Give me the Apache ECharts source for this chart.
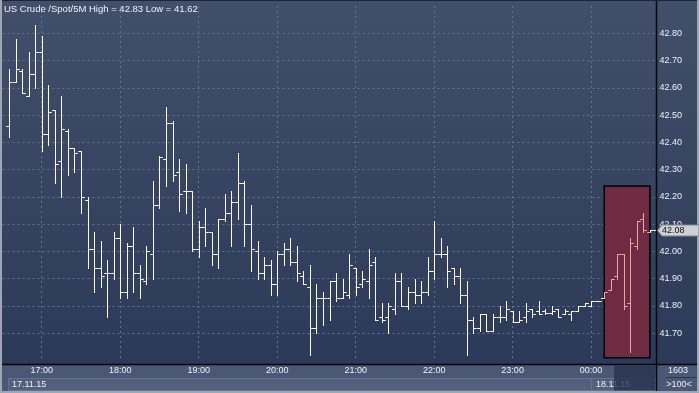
<!DOCTYPE html>
<html><head><meta charset="utf-8">
<script src="https://cdn.jsdelivr.net/npm/echarts@6/dist/echarts.min.js"></script>
<style>html,body{margin:0;padding:0;background:#9ea6b3;}#c{width:699px;height:393px;}</style>
</head><body><div id="c"></div>
<script>
// ---- data ----
const times = ['16:35','16:40','16:45','16:50','16:55',
'17:00','17:05','17:10','17:15','17:20','17:25','17:30','17:35','17:40','17:45','17:50','17:55',
'18:00','18:05','18:10','18:15','18:20','18:25','18:30','18:35','18:40','18:45','18:50','18:55',
'19:00','19:05','19:10','19:15','19:20','19:25','19:30','19:35','19:40','19:45','19:50','19:55',
'20:00','20:05','20:10','20:15','20:20','20:25','20:30','20:35','20:40','20:45','20:50','20:55',
'21:00','21:05','21:10','21:15','21:20','21:25','21:30','21:35','21:40','21:45','21:50','21:55',
'22:00','22:05','22:10','22:15','22:20','22:25','22:30','22:35','22:40','22:45','22:50','22:55',
'23:00','23:05','23:10','23:15','23:20','23:25','23:30','23:35','23:40','23:45','23:50','23:55',
'00:00','00:05','00:10','00:15','00:20','00:25','00:30','00:35','00:40','00:45'];
const opens = [42.46,42.62,42.66,42.57,42.65,
42.73,42.43,42.52,42.33,42.44,42.38,42.37,42.19,42.01,41.94,41.92,41.92,
42.05,41.85,42.02,41.92,41.89,41.99,42.17,42.34,42.47,42.29,42.22,42.22,
42.01,42.09,42.07,41.99,42.12,42.14,42.18,42.25,42.10,42.00,41.92,41.95,
41.88,41.99,42.01,41.96,41.91,41.87,41.72,41.83,41.83,41.89,41.83,41.84,
41.94,41.88,41.89,41.96,41.76,41.76,41.79,41.89,41.80,41.85,41.84,41.85,
41.93,41.99,41.99,41.94,41.91,41.84,41.75,41.72,41.77,41.71,41.76,41.76,
41.78,41.74,41.76,41.79,41.78,41.78,41.775,41.79,41.77,41.77,41.78,41.80,
41.80,41.82,41.83,41.86,41.91,41.99,41.81,42.02,42.12,42.07];
const highs = [42.67,42.78,42.67,42.73,42.83,
42.79,42.61,42.52,42.57,42.45,42.38,42.37,42.20,42.07,42.04,41.97,42.07,
42.10,42.03,42.09,41.95,42.02,42.26,42.35,42.53,42.48,42.34,42.32,42.22,
42.11,42.16,42.07,42.12,42.21,42.22,42.36,42.26,42.17,42.04,41.98,41.97,
42.00,42.03,42.05,42.02,41.93,41.95,41.88,41.85,41.89,41.92,41.90,41.99,
41.94,41.93,42.01,41.98,41.81,41.81,41.92,41.92,41.87,41.90,41.89,41.98,
42.11,42.05,42.02,41.94,41.94,41.89,41.76,41.77,41.77,41.77,41.80,41.82,
41.78,41.78,41.81,41.79,41.82,41.79,41.80,41.79,41.79,41.78,41.80,41.81,
41.82,41.82,41.85,41.90,41.99,41.99,42.05,42.11,42.14,42.08];
const lows = [42.42,42.62,42.58,42.57,42.60,
42.37,42.39,42.25,42.20,42.28,42.29,42.14,41.94,41.85,41.87,41.76,41.90,
41.83,41.83,41.85,41.83,41.88,41.90,42.16,42.24,42.26,42.15,42.14,42.00,
41.98,42.02,41.95,41.94,42.11,42.02,42.12,42.02,41.93,41.90,41.90,41.84,
41.84,41.95,41.95,41.89,41.88,41.62,41.70,41.73,41.75,41.82,41.83,41.83,
41.84,41.87,41.83,41.75,41.74,41.70,41.77,41.80,41.79,41.81,41.81,41.84,
41.90,41.98,41.87,41.88,41.81,41.62,41.70,41.71,41.71,41.71,41.74,41.75,
41.74,41.74,41.74,41.76,41.77,41.77,41.77,41.76,41.77,41.75,41.78,41.80,
41.80,41.82,41.83,41.86,41.90,41.79,41.63,42.01,42.07,42.07];
const closes = [42.62,42.67,42.58,42.65,42.73,
42.43,42.51,42.32,42.45,42.38,42.36,42.20,42.01,41.94,41.91,41.92,42.05,
41.85,42.02,41.92,41.90,42.00,42.17,42.345,42.47,42.28,42.21,42.22,42.01,
42.09,42.07,41.99,42.12,42.14,42.18,42.25,42.10,42.01,41.92,41.95,41.88,
41.99,42.01,41.96,41.92,41.88,41.72,41.83,41.83,41.89,41.83,41.85,41.95,
41.87,41.90,41.95,41.75,41.75,41.80,41.89,41.80,41.85,41.84,41.85,41.93,
41.99,41.99,41.93,41.91,41.84,41.75,41.72,41.77,41.71,41.76,41.76,41.79,
41.74,41.75,41.78,41.77,41.77,41.775,41.78,41.76,41.78,41.78,41.80,41.81,
41.82,41.82,41.85,41.90,41.99,41.80,42.03,42.11,42.08,42.08];
const categories = ['16:30'].concat(times, ['00:50']);
const hourLabels = ['17:00','18:00','19:00','20:00','21:00','22:00','23:00','00:00'];
const yTickLabels = ['41.70','41.80','41.90','42.00','42.10','42.20','42.30','42.40','42.50','42.60','42.70','42.80'];
const boxStart = '00:10', boxEnd = '00:45', boxTop = 42.24, boxBottom = 41.61;
const titleText = 'US Crude /Spot/5M High = 42.83 Low = 41.62';
const dates = ['17.11.15', '18.11.15'];

const FONT = '"Liberation Sans", Arial, sans-serif';
const WHITE = '#fdf7f2', PINK = '#f2a2a6';
const catIdx = t => categories.indexOf(t);
const ohlc = times.map((t, i) => [catIdx(t), opens[i], highs[i], lows[i], closes[i]]);

const chart = echarts.init(document.getElementById('c'), null, {renderer: 'canvas'});
const grad = (a, b) => new echarts.graphic.LinearGradient(0, 0, 0, 1, [{offset: 0, color: a}, {offset: 1, color: b}]);
const base = [
  {type: 'rect', z: -100, shape: {x: 2, y: 0, width: 655, height: 364}, style: {fill: grad('#414f6a', '#2c3a59')}},
  {type: 'rect', z: -100, shape: {x: 657, y: 0, width: 40, height: 364}, style: {fill: grad('#414f6a', '#2c3a59')}},
  {type: 'rect', z: -100, shape: {x: 2, y: 365, width: 695, height: 26}, style: {fill: '#4a5875'}},
  {type: 'rect', z: -90, shape: {x: 8.5, y: 378.5, width: 583, height: 12}, style: {fill: '#52607d', stroke: '#66738e', lineWidth: 1}},
  {type: 'rect', z: -90, shape: {x: 591.5, y: 378.5, width: 64, height: 12}, style: {fill: '#52607d', stroke: '#66738e', lineWidth: 1}},
  {type: 'line', z: 50, shape: {x1: 656.5, y1: 0, x2: 656.5, y2: 391}, style: {stroke: '#05070c', lineWidth: 1.5}},
  {type: 'line', z: 50, shape: {x1: 2, y1: 364.5, x2: 697, y2: 364.5}, style: {stroke: '#05070c', lineWidth: 1.5}},
  {type: 'line', z: 50, shape: {x1: 2, y1: 0.5, x2: 697, y2: 0.5}, style: {stroke: '#1c2538', lineWidth: 1}},
  {type: 'text', z: 100, style: {x: 4, y: 9, text: titleText, fill: '#eef0f4', font: '9.5px ' + FONT, verticalAlign: 'middle'}},
  {type: 'text', z: 100, style: {x: 12, y: 384.5, text: dates[0], fill: '#eef0f4', font: '9px ' + FONT, verticalAlign: 'middle'}},
  {type: 'text', z: 100, style: {x: 596, y: 384.5, text: dates[1], fill: '#eef0f4', font: '9px ' + FONT, verticalAlign: 'middle'}},
  {type: 'rect', z: 110, shape: {x: 614, y: 365.5, width: 41.5, height: 25}, style: {fill: 'rgba(38,50,78,0.8)'}},
  {type: 'text', z: 100, style: {x: 678, y: 371, text: '1603', fill: '#eef0f4', font: '9px ' + FONT, align: 'center', verticalAlign: 'middle'}},
  {type: 'line', z: 100, shape: {x1: 666, y1: 377.5, x2: 697, y2: 377.5}, style: {stroke: '#2b3650', lineWidth: 1}},
  {type: 'text', z: 100, style: {x: 679, y: 384.5, text: '>100<', fill: '#eef0f4', font: '9px ' + FONT, align: 'center', verticalAlign: 'middle'}}
];

chart.setOption({
  animation: false,
  backgroundColor: 'transparent',
  grid: {left: 2.5, right: 42.5, top: 6, bottom: 32.5, containLabel: false},
  xAxis: {
    type: 'category', data: categories, boundaryGap: false,
    axisLine: {show: false}, axisTick: {show: false},
    axisLabel: {interval: (i, v) => hourLabels.includes(v), color: '#eef0f4', fontSize: 9, fontFamily: FONT, margin: 6},
    splitLine: {show: true, interval: (i, v) => hourLabels.includes(v), lineStyle: {color: '#5f7194', type: [2, 3], width: 1}}
  },
  yAxis: {
    type: 'value', position: 'right', min: 41.6, max: 42.9, interval: 0.1,
    axisLine: {show: false}, axisTick: {show: false},
    axisLabel: {color: '#eef0f4', fontSize: 9, fontFamily: FONT, margin: 3,
      formatter: v => yTickLabels.includes(v.toFixed(2)) ? v.toFixed(2) : ''},
    splitLine: {show: true, showMinLine: false, showMaxLine: false, lineStyle: {color: '#5f7194', type: [2, 3], width: 1}}
  },
  graphic: base,
  series: [
    {type: 'line', data: [], z: 1, silent: true,
      markArea: {silent: true, itemStyle: {color: '#6e2b42', borderColor: '#000', borderWidth: 1.5},
        data: [[{xAxis: boxStart, yAxis: boxTop}, {xAxis: boxEnd, yAxis: boxBottom}]]}},
    {type: 'custom', z: 5, data: ohlc, encode: {x: 0, y: [1, 2, 3, 4]}, clip: false,
      renderItem: (params, api) => {
        const xi = api.value(0);
        const x = Math.round(api.coord([xi, api.value(1)])[0]) + 0.5;
        const yo = Math.round(api.coord([xi, api.value(1)])[1]) + 0.5;
        const yh = Math.round(api.coord([xi, api.value(2)])[1]);
        const yl = Math.round(api.coord([xi, api.value(3)])[1]) + 1;
        const yc = Math.round(api.coord([xi, api.value(4)])[1]) + 0.5;
        const half = api.size([1, 0])[0] / 2;
        const bl = api.coord([catIdx(boxStart), 0])[0], br = api.coord([catIdx(boxEnd), 0])[0];
        const col = m => (m > bl && m < br) ? PINK : WHITE;
        return {type: 'group', children: [
          {type: 'line', shape: {x1: x, y1: yh, x2: x, y2: yl}, style: {stroke: col(x), lineWidth: 1}},
          {type: 'line', shape: {x1: x - half, y1: yo, x2: x, y2: yo}, style: {stroke: col(x - half / 2), lineWidth: 1}},
          {type: 'line', shape: {x1: x, y1: yc, x2: x + half, y2: yc}, style: {stroke: col(x + half / 2), lineWidth: 1}}
        ]};
      }}
  ]
});

const lastPrice = closes[closes.length - 1];
const py = Math.round(chart.convertToPixel({yAxisIndex: 0}, lastPrice)) + 0.5;
const lastX = chart.convertToPixel({xAxisIndex: 0}, catIdx(times[times.length - 1]));
const priceElems = [
  {type: 'line', z: 60, shape: {x1: lastX + 4, y1: py, x2: 656, y2: py}, style: {stroke: WHITE, lineWidth: 1, lineDash: [2, 1]}},
  {type: 'polygon', z: 120, shape: {points: [[657.5, py], [662, py - 5.5], [699, py - 5.5], [699, py + 5.5], [662, py + 5.5]]},
    style: {fill: '#cdd1d6', stroke: '#7d8595', lineWidth: 1}},
  {type: 'text', z: 121, style: {x: 662, y: py + 0.5, text: lastPrice.toFixed(2), fill: '#111', font: '9px ' + FONT, verticalAlign: 'middle'}}
];
chart.setOption({graphic: base.concat(priceElems)});
</script>
</body></html>
